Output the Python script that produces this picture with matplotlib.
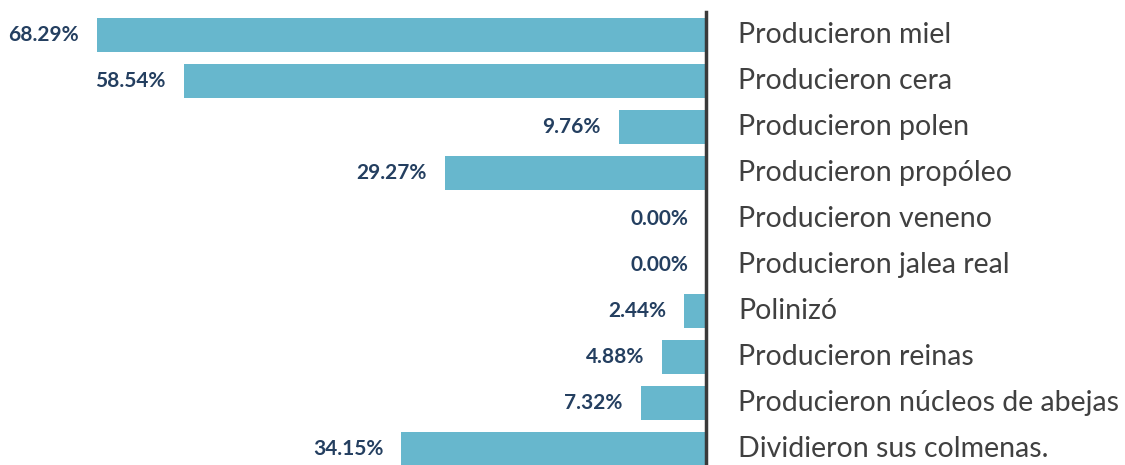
import matplotlib
matplotlib.use("Agg")
import matplotlib.pyplot as plt

categorias = [
    "Producieron miel",
    "Producieron cera",
    "Producieron polen",
    "Producieron propóleo",
    "Producieron veneno",
    "Producieron jalea real",
    "Polinizó",
    "Producieron reinas",
    "Producieron núcleos de abejas",
    "Dividieron sus colmenas.",
]
porcentajes = [68.29, 58.54, 9.76, 29.27, 0.00, 0.00, 2.44, 4.88, 7.32, 34.15]

color_barra = "#67B7CD"
color_valor = "#243F60"

plt.rcParams['font.family'] = ['Lato', 'DejaVu Sans']

fig = plt.figure(figsize=(11.25, 4.65), dpi=100)
# eje vertical empieza ~12 px bajo el borde superior
ax = fig.add_axes([0, 0, 706 / 1125, 453 / 465])

y = list(range(len(categorias)))
ax.barh(y, porcentajes, height=0.72, color=color_barra)
ax.set_xlim(706 / 8.92, 0)
ax.set_ylim(9.348, -0.5)

for i, (cat, v) in enumerate(zip(categorias, porcentajes)):
    ax.annotate(f"{v:.2f}%", xy=(v, i), xytext=(-13, 0), textcoords="offset points",
                ha="right", va="center", fontsize=15, fontweight="bold", color=color_valor)
    ax.annotate(cat, xy=(0, i), xytext=(23, 0), textcoords="offset points",
                ha="left", va="center", fontsize=20.5, color="#404040", annotation_clip=False)

for s in ["top", "left", "bottom"]:
    ax.spines[s].set_visible(False)
ax.spines["right"].set_color("#3a3a3a")
ax.spines["right"].set_linewidth(2.5)
ax.set_xticks([])
ax.set_yticks([])
ax.patch.set_alpha(0)

fig.savefig("out.png", dpi=100)
